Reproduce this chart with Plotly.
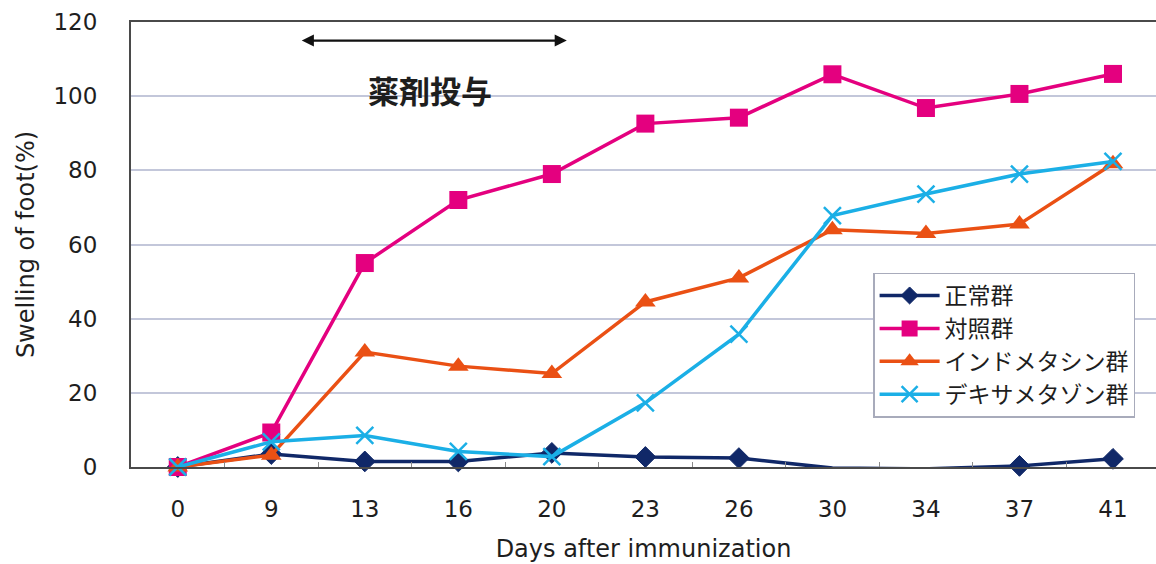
import plotly.graph_objects as go

# Days after immunization (category labels on the x axis)
days = ["0", "9", "13", "16", "20", "23", "26", "30", "34", "37", "41"]

# Swelling of foot (%) for each group
normal = [0, 3.5, 1.5, 1.5, 3.8, 2.7, 2.4, -0.3, -0.5, 0.3, 2.2]
control = [0, 9.3, 55.0, 72.0, 79.0, 92.6, 94.2, 105.9, 96.8, 100.6, 106.0]
indomethacin = [0, 3.2, 31.0, 27.2, 25.2, 44.5, 51.0, 64.0, 63.0, 65.5, 81.8]
dexamethasone = [0, 6.8, 8.5, 4.2, 2.8, 17.3, 35.8, 67.8, 73.6, 79.0, 82.4]

group_names = ["正常群", "対照群", "インドメタシン群", "デキサメタゾン群"]

FONT = "DejaVu Sans, Noto Sans CJK JP"
CJK = "Noto Sans CJK JP"
TEXT = "#1e1e1e"
NAVY = "#102868"

fig = go.Figure()

# Points below the axis are hidden for the normal group
normal_sizes = [16 if v >= 0 else 0 for v in normal]

fig.add_trace(go.Scatter(
    x=days, y=normal, name=group_names[0], mode="lines+markers",
    line=dict(color=NAVY, width=3.5),
    marker=dict(symbol="diamond", size=normal_sizes, color=NAVY, opacity=1,
                line=dict(color=NAVY, width=1)),
    cliponaxis=False,
))
fig.add_trace(go.Scatter(
    x=days, y=control, name=group_names[1], mode="lines+markers",
    line=dict(color="#e4007f", width=3.5),
    marker=dict(symbol="square", size=18, color="#e4007f", opacity=1),
    cliponaxis=False,
))
fig.add_trace(go.Scatter(
    x=days, y=indomethacin, name=group_names[2], mode="lines+markers",
    line=dict(color="#ea5014", width=3.5),
    marker=dict(symbol="triangle-up", size=18, color="#ea5014", opacity=1),
    cliponaxis=False,
))
fig.add_trace(go.Scatter(
    x=days, y=dexamethasone, name=group_names[3], mode="lines+markers",
    line=dict(color="#1bafe6", width=3.5),
    marker=dict(symbol="x-thin", size=17, color="#1bafe6",
                line=dict(color="#1bafe6", width=2.5)),
    cliponaxis=False,
))

# Dosing period arrow and its label
fig.add_annotation(
    x=4.16, y=115, ax=1.31, ay=115, xref="x", yref="y", axref="x", ayref="y",
    text="", showarrow=True, arrowhead=2, arrowside="end+start",
    arrowsize=1.1, arrowwidth=2.2, arrowcolor="#111111",
)
fig.add_annotation(
    x=2.7, y=101.8, xref="x", yref="y", text="<b>薬剤投与</b>", showarrow=False,
    font=dict(family=CJK, size=31, color=TEXT),
)

fig.update_layout(
    width=1156, height=564,
    margin=dict(l=131, r=0, t=22, b=97),
    paper_bgcolor="white", plot_bgcolor="white",
    font=dict(family=FONT, color=TEXT),
    showlegend=True,
    legend=dict(
        x=0.724, y=0.437, xanchor="left", yanchor="top",
        bgcolor="white", bordercolor="#a8abbb", borderwidth=1.5,
        font=dict(family=CJK, size=23, color=TEXT),
        tracegroupgap=0, itemwidth=60,
    ),
    xaxis=dict(
        type="category", range=[-0.5, 10.46],
        showline=True, linecolor="#4a4a4a", linewidth=2, mirror=True,
        showgrid=False, ticks="inside", ticklen=5, tickcolor="#8a8a8a",
        tickson="boundaries",
        tickfont=dict(family=FONT, size=23, color=TEXT),
        ticklabelstandoff=20,
        title=dict(text="Days after immunization",
                   font=dict(family=FONT, size=24, color=TEXT),
                   standoff=20),
    ),
    yaxis=dict(
        range=[0, 120], tickvals=[0, 20, 40, 60, 80, 100, 120],
        showline=True, linecolor="#4a4a4a", linewidth=2,
        showgrid=True, gridcolor="#c3c7da", gridwidth=2,
        ticks="", zeroline=False,
        tickfont=dict(family=FONT, size=23, color=TEXT),
        ticklabelstandoff=27,
        title=dict(text="Swelling of foot(%)",
                   font=dict(family=FONT, size=24, color=TEXT),
                   standoff=12),
    ),
)

fig.write_html("out.html")
